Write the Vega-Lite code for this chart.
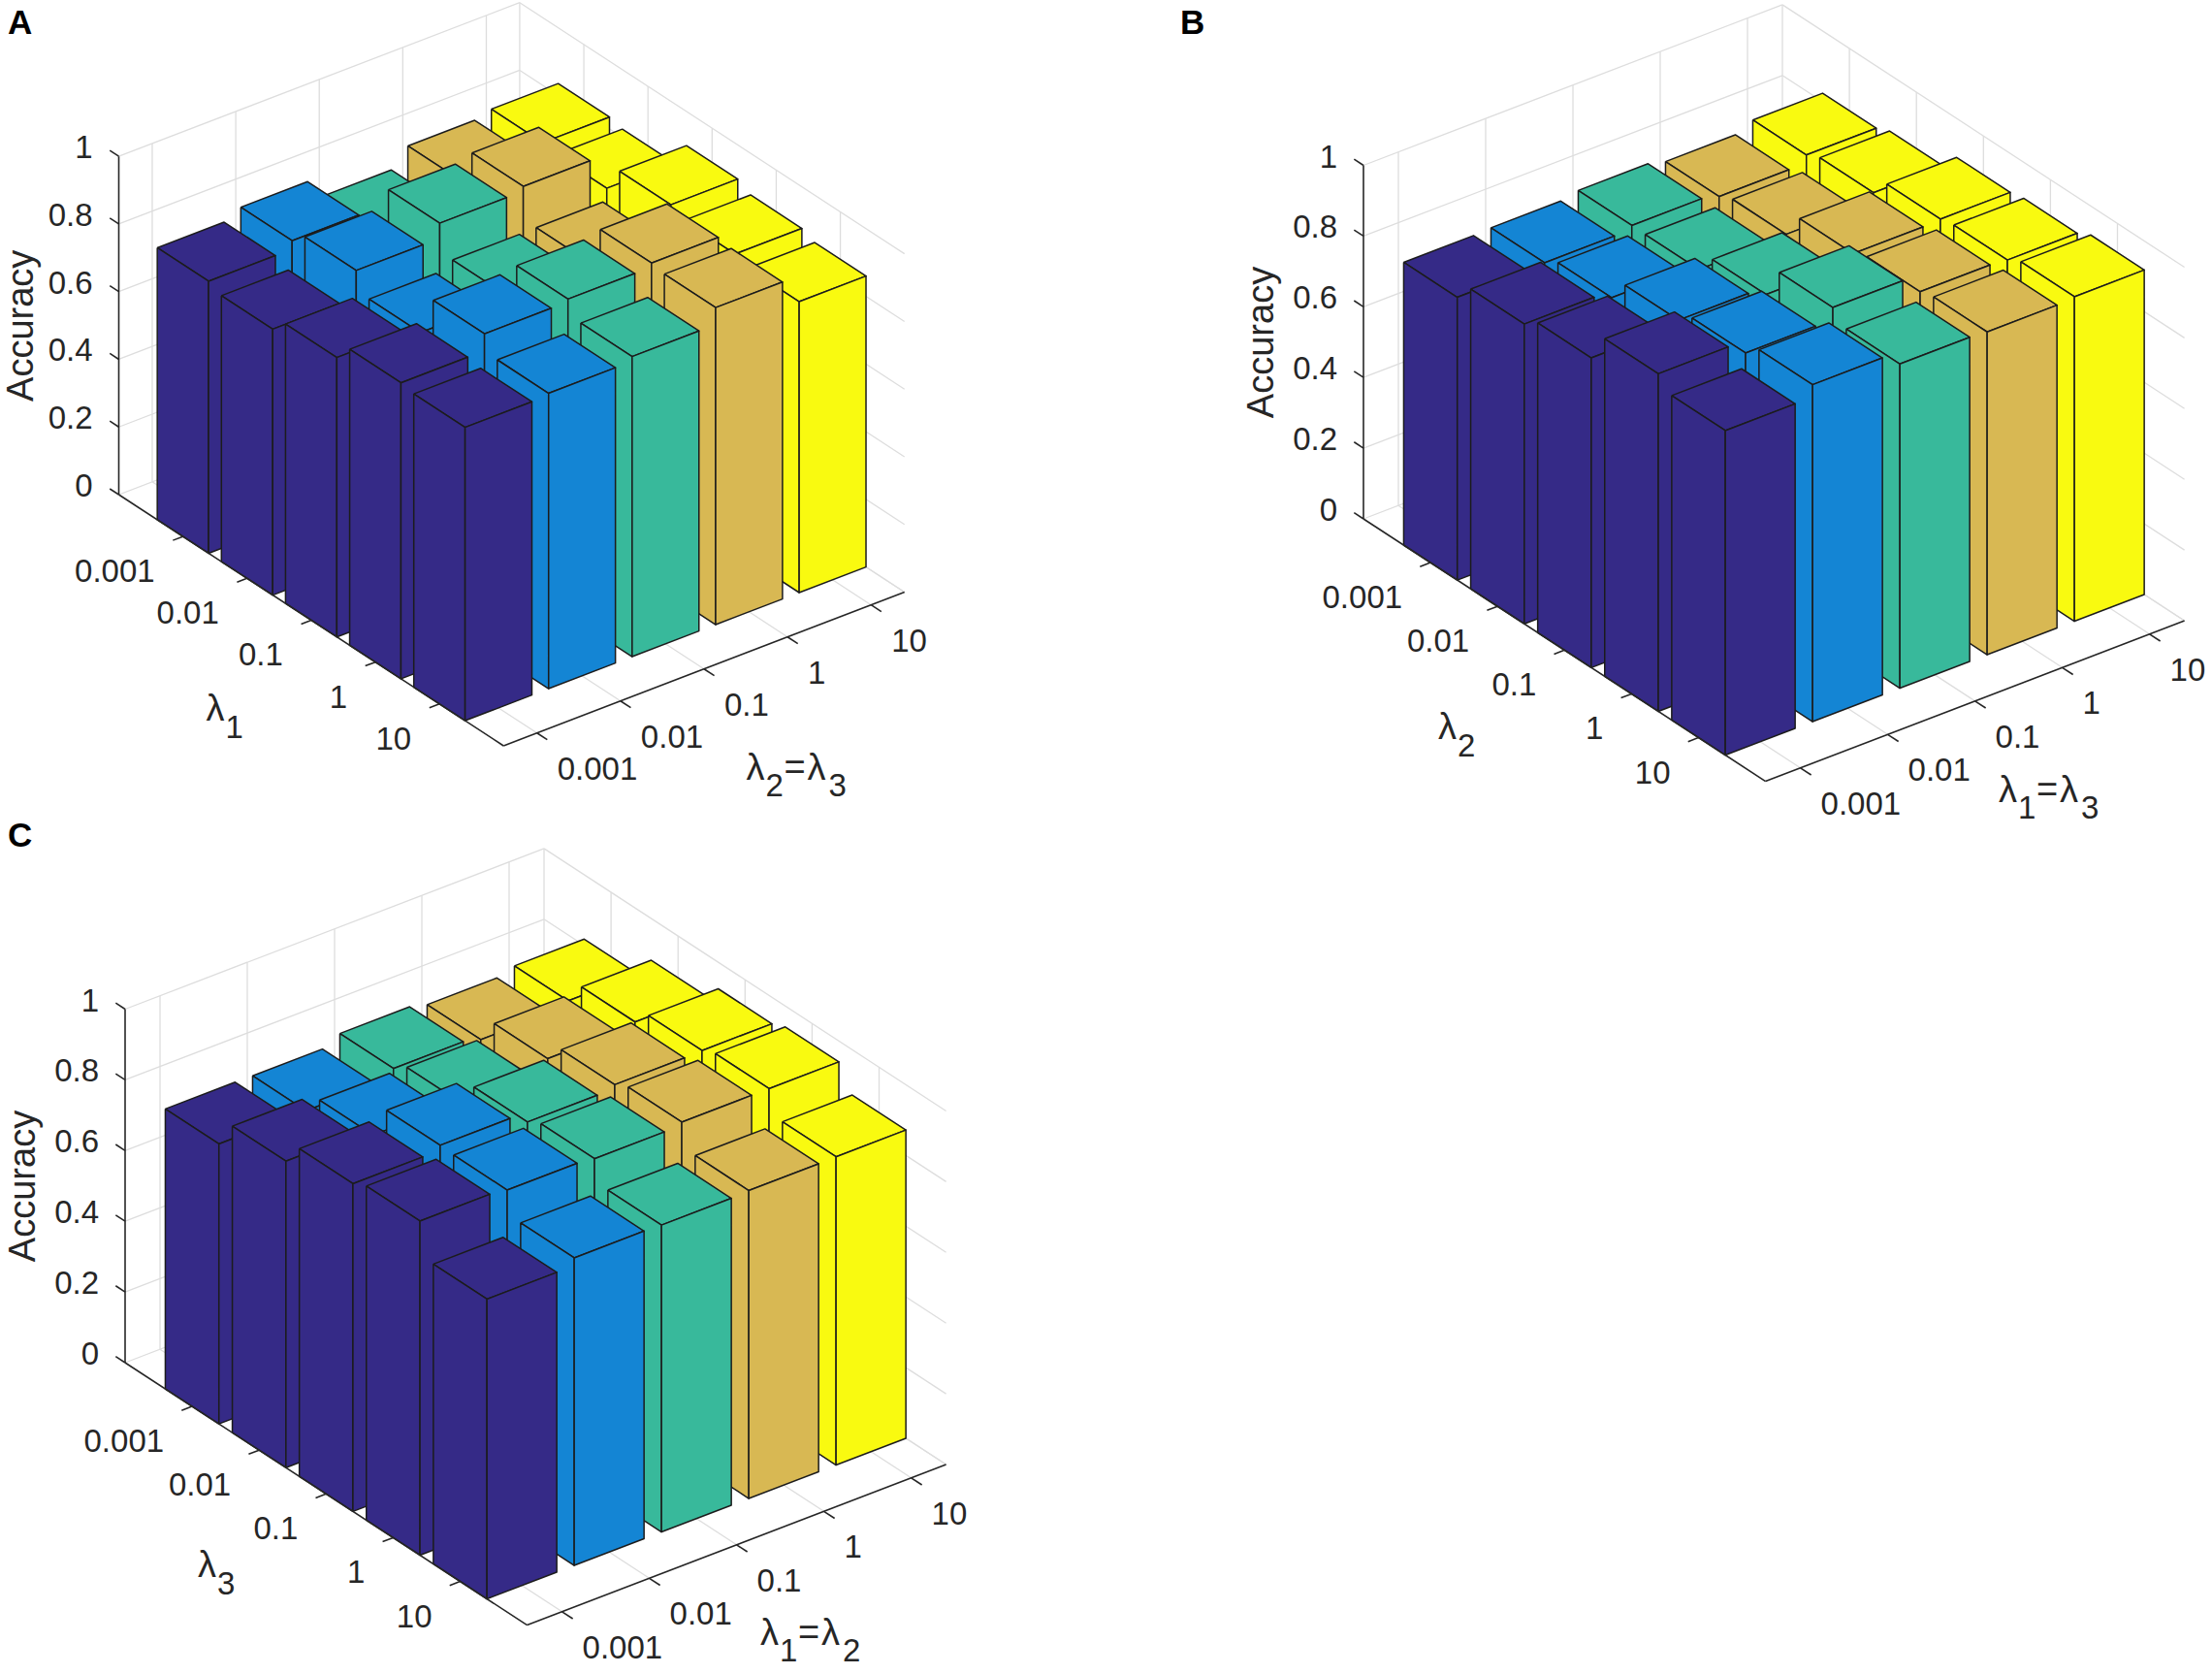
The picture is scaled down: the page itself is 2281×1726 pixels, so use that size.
{
  "$schema": "https://vega.github.io/schema/vega-lite/v6.json",
  "width": 2281,
  "height": 1726,
  "autosize": "none",
  "padding": 0,
  "background": "white",
  "config": {"view": {"stroke": null}, "text": {"font": "Liberation Sans", "color": "#262626"}},
  "params": [
    {"name": "geo", "value": {
      "A": {"lx": 122.5, "ly": 510, "s": 0.957, "tx": 8, "ty": 24, "t1x": 90, "t1y": 222, "t2x": 647, "t2y": 283},
      "B": {"lx": 1406, "ly": 535, "s": 1, "tx": 1217, "ty": 24, "t1x": 77, "t1y": 216, "t2x": 655, "t2y": 281},
      "C": {"lx": 129, "ly": 1405, "s": 1, "tx": 8, "ty": 862, "t1x": 75, "t1y": 210, "t2x": 655, "t2y": 280}
    }}
  ],
  "datasets": {
    "bars": [
      {"p": "A", "i": 5, "j": 1, "acc": 0.835}, {"p": "A", "i": 4, "j": 1, "acc": 0.821}, {"p": "A", "i": 5, "j": 2, "acc": 0.824},
      {"p": "A", "i": 3, "j": 1, "acc": 0.769}, {"p": "A", "i": 4, "j": 2, "acc": 0.924}, {"p": "A", "i": 5, "j": 3, "acc": 0.899},
      {"p": "A", "i": 2, "j": 1, "acc": 0.829}, {"p": "A", "i": 3, "j": 2, "acc": 0.910}, {"p": "A", "i": 4, "j": 3, "acc": 0.827},
      {"p": "A", "i": 5, "j": 4, "acc": 0.877}, {"p": "A", "i": 1, "j": 1, "acc": 0.804}, {"p": "A", "i": 2, "j": 2, "acc": 0.865},
      {"p": "A", "i": 3, "j": 3, "acc": 0.826}, {"p": "A", "i": 4, "j": 4, "acc": 0.945}, {"p": "A", "i": 5, "j": 5, "acc": 0.860},
      {"p": "A", "i": 1, "j": 2, "acc": 0.786}, {"p": "A", "i": 2, "j": 3, "acc": 0.805}, {"p": "A", "i": 3, "j": 4, "acc": 0.933},
      {"p": "A", "i": 4, "j": 5, "acc": 0.937}, {"p": "A", "i": 1, "j": 3, "acc": 0.826}, {"p": "A", "i": 2, "j": 4, "acc": 0.925},
      {"p": "A", "i": 3, "j": 5, "acc": 0.887}, {"p": "A", "i": 1, "j": 4, "acc": 0.875}, {"p": "A", "i": 2, "j": 5, "acc": 0.873},
      {"p": "A", "i": 1, "j": 5, "acc": 0.867},
      {"p": "B", "i": 5, "j": 1, "acc": 0.824}, {"p": "B", "i": 4, "j": 1, "acc": 0.801}, {"p": "B", "i": 5, "j": 2, "acc": 0.841},
      {"p": "B", "i": 3, "j": 1, "acc": 0.814}, {"p": "B", "i": 4, "j": 2, "acc": 0.818}, {"p": "B", "i": 5, "j": 3, "acc": 0.890},
      {"p": "B", "i": 2, "j": 1, "acc": 0.803}, {"p": "B", "i": 3, "j": 2, "acc": 0.813}, {"p": "B", "i": 4, "j": 3, "acc": 0.887},
      {"p": "B", "i": 5, "j": 4, "acc": 0.898}, {"p": "B", "i": 1, "j": 1, "acc": 0.800}, {"p": "B", "i": 2, "j": 2, "acc": 0.828},
      {"p": "B", "i": 3, "j": 3, "acc": 0.866}, {"p": "B", "i": 4, "j": 4, "acc": 0.903}, {"p": "B", "i": 5, "j": 5, "acc": 0.918},
      {"p": "B", "i": 1, "j": 2, "acc": 0.848}, {"p": "B", "i": 2, "j": 3, "acc": 0.888}, {"p": "B", "i": 3, "j": 4, "acc": 0.953},
      {"p": "B", "i": 4, "j": 5, "acc": 0.913}, {"p": "B", "i": 1, "j": 3, "acc": 0.876}, {"p": "B", "i": 2, "j": 4, "acc": 0.919},
      {"p": "B", "i": 3, "j": 5, "acc": 0.917}, {"p": "B", "i": 1, "j": 4, "acc": 0.955}, {"p": "B", "i": 2, "j": 5, "acc": 0.953},
      {"p": "B", "i": 1, "j": 5, "acc": 0.918},
      {"p": "C", "i": 5, "j": 1, "acc": 0.818}, {"p": "C", "i": 4, "j": 1, "acc": 0.803}, {"p": "C", "i": 5, "j": 2, "acc": 0.882},
      {"p": "C", "i": 3, "j": 1, "acc": 0.816}, {"p": "C", "i": 4, "j": 2, "acc": 0.873}, {"p": "C", "i": 5, "j": 3, "acc": 0.925},
      {"p": "C", "i": 2, "j": 1, "acc": 0.791}, {"p": "C", "i": 3, "j": 2, "acc": 0.844}, {"p": "C", "i": 4, "j": 3, "acc": 0.923},
      {"p": "C", "i": 5, "j": 4, "acc": 0.941}, {"p": "C", "i": 1, "j": 1, "acc": 0.792}, {"p": "C", "i": 2, "j": 2, "acc": 0.846},
      {"p": "C", "i": 3, "j": 3, "acc": 0.912}, {"p": "C", "i": 4, "j": 4, "acc": 0.941}, {"p": "C", "i": 5, "j": 5, "acc": 0.872},
      {"p": "C", "i": 1, "j": 2, "acc": 0.867}, {"p": "C", "i": 2, "j": 3, "acc": 0.941}, {"p": "C", "i": 3, "j": 4, "acc": 0.932},
      {"p": "C", "i": 4, "j": 5, "acc": 0.871}, {"p": "C", "i": 1, "j": 3, "acc": 0.927}, {"p": "C", "i": 2, "j": 4, "acc": 0.938},
      {"p": "C", "i": 3, "j": 5, "acc": 0.868}, {"p": "C", "i": 1, "j": 4, "acc": 0.945}, {"p": "C", "i": 2, "j": 5, "acc": 0.870},
      {"p": "C", "i": 1, "j": 5, "acc": 0.848}
    ],
    "ticks": [
      {"k": "z", "v": 0, "t": "0"}, {"k": "z", "v": 0.2, "t": "0.2"}, {"k": "z", "v": 0.4, "t": "0.4"},
      {"k": "z", "v": 0.6, "t": "0.6"}, {"k": "z", "v": 0.8, "t": "0.8"}, {"k": "z", "v": 1, "t": "1"},
      {"k": "x", "v": 1, "t": "0.001"}, {"k": "x", "v": 2, "t": "0.01"}, {"k": "x", "v": 3, "t": "0.1"},
      {"k": "x", "v": 4, "t": "1"}, {"k": "x", "v": 5, "t": "10"}, {"k": "x", "v": 5.4, "t": ""},
      {"k": "y", "v": 1, "t": "0.001"}, {"k": "y", "v": 2, "t": "0.01"}, {"k": "y", "v": 3, "t": "0.1"},
      {"k": "y", "v": 4, "t": "1"}, {"k": "y", "v": 5, "t": "10"}
    ],
    "axislines": [{"a": "x"}, {"a": "y"}, {"a": "z"}],
    "panels": [
      {"p": "A", "yd": "1", "xd1": "2", "xd2": "3"},
      {"p": "B", "yd": "2", "xd1": "1", "xd2": "3"},
      {"p": "C", "yd": "3", "xd1": "1", "xd2": "2"}
    ]
  },
  "encoding": {
    "x": {"field": "px", "type": "quantitative", "scale": {"domain": [0, 2281], "nice": false, "zero": false}, "axis": null},
    "y": {"field": "py", "type": "quantitative", "scale": {"domain": [1726, 0], "nice": false, "zero": false}, "axis": null}
  },
  "layer": [
    {
      "data": {"name": "ticks"},
      "transform": [
        {"fold": ["A", "B", "C"], "as": ["p", "pp"]},
        {"fold": ["g1", "g2"], "as": ["g", "gg"]},
        {"calculate": "datum.k == 'z' ? (datum.g == 'g1' ? 0.6 : 5.4) : datum.k == 'x' ? datum.v : (datum.g == 'g1' ? 5.4 : 0.6)", "as": "X1"},
        {"calculate": "datum.k == 'y' ? datum.v : 0", "as": "Y1"},
        {"calculate": "datum.k == 'z' ? datum.v : 0", "as": "Z1"},
        {"calculate": "datum.k == 'x' ? datum.v : 5.4", "as": "X2"},
        {"calculate": "datum.k == 'y' ? datum.v : (datum.g == 'g1' ? 0 : 6)", "as": "Y2"},
        {"calculate": "datum.k == 'z' ? datum.v : (datum.g == 'g1' ? 1 : 0)", "as": "Z2"},
        {"calculate": "geo[datum.p].lx + geo[datum.p].s * (90 * (datum.X1 - 0.6) + 69.1 * datum.Y1)", "as": "px"},
        {"calculate": "geo[datum.p].ly + geo[datum.p].s * (-34.5 * (datum.X1 - 0.6) + 45.1 * datum.Y1 - 364.5 * datum.Z1)", "as": "py"},
        {"calculate": "geo[datum.p].lx + geo[datum.p].s * (90 * (datum.X2 - 0.6) + 69.1 * datum.Y2)", "as": "px2"},
        {"calculate": "geo[datum.p].ly + geo[datum.p].s * (-34.5 * (datum.X2 - 0.6) + 45.1 * datum.Y2 - 364.5 * datum.Z2)", "as": "py2"}
      ],
      "mark": {"type": "rule", "color": "#dddddd", "strokeWidth": 1.3},
      "encoding": {"x2": {"field": "px2"}, "y2": {"field": "py2"}}
    },
    {
      "data": {"name": "bars"},
      "transform": [
        {"fold": ["top", "left", "right"], "as": ["face", "fv"]},
        {"fold": ["0", "1", "2", "3", "4"], "as": ["vk", "vv"]},
        {"calculate": "toNumber(datum.vk)", "as": "vi"},
        {"calculate": "datum.face == 'left' ? 0 : [0, 1, 1, 0, 0][datum.vi]", "as": "dx"},
        {"calculate": "datum.face == 'right' ? 1 : datum.face == 'top' ? [0, 0, 1, 1, 0][datum.vi] : [0, 1, 1, 0, 0][datum.vi]", "as": "dy"},
        {"calculate": "datum.face == 'top' ? 1 : [1, 1, 0, 0, 1][datum.vi]", "as": "dz"},
        {"calculate": "datum.i - 0.4 + 0.8 * datum.dx", "as": "X1"},
        {"calculate": "datum.j - 0.4 + 0.8 * datum.dy", "as": "Y1"},
        {"calculate": "datum.acc * datum.dz", "as": "Z1"},
        {"calculate": "geo[datum.p].lx + geo[datum.p].s * (90 * (datum.X1 - 0.6) + 69.1 * datum.Y1)", "as": "px"},
        {"calculate": "geo[datum.p].ly + geo[datum.p].s * (-34.5 * (datum.X1 - 0.6) + 45.1 * datum.Y1 - 364.5 * datum.Z1)", "as": "py"},
        {"calculate": "datum.p + '-' + datum.i + '-' + datum.j + '-' + datum.face", "as": "fid"}
      ],
      "mark": {"type": "line", "filled": true, "stroke": "#1c1c1c", "strokeWidth": 1.5, "strokeJoin": "round"},
      "encoding": {
        "detail": {"field": "fid"},
        "order": {"field": "vi", "type": "quantitative"},
        "color": {"field": "i", "type": "nominal", "scale": {"domain": [1, 2, 3, 4, 5], "range": ["#352A87", "#1485D4", "#38B99B", "#D8B853", "#F9FA10"]}, "legend": null}
      }
    },
    {
      "data": {"name": "axislines"},
      "transform": [
        {"fold": ["A", "B", "C"], "as": ["p", "pp"]},
        {"calculate": "0.6", "as": "X1"},
        {"calculate": "datum.a == 'x' ? 6 : 0", "as": "Y1"},
        {"calculate": "0", "as": "Z1"},
        {"calculate": "datum.a == 'x' ? 5.4 : 0.6", "as": "X2"},
        {"calculate": "datum.a == 'z' ? 0 : 6", "as": "Y2"},
        {"calculate": "datum.a == 'z' ? 1 : 0", "as": "Z2"},
        {"calculate": "geo[datum.p].lx + geo[datum.p].s * (90 * (datum.X1 - 0.6) + 69.1 * datum.Y1)", "as": "px"},
        {"calculate": "geo[datum.p].ly + geo[datum.p].s * (-34.5 * (datum.X1 - 0.6) + 45.1 * datum.Y1 - 364.5 * datum.Z1)", "as": "py"},
        {"calculate": "geo[datum.p].lx + geo[datum.p].s * (90 * (datum.X2 - 0.6) + 69.1 * datum.Y2)", "as": "px2"},
        {"calculate": "geo[datum.p].ly + geo[datum.p].s * (-34.5 * (datum.X2 - 0.6) + 45.1 * datum.Y2 - 364.5 * datum.Z2)", "as": "py2"}
      ],
      "mark": {"type": "rule", "color": "#262626", "strokeWidth": 1.6},
      "encoding": {"x2": {"field": "px2"}, "y2": {"field": "py2"}}
    },
    {
      "data": {"name": "ticks"},
      "transform": [
        {"filter": "datum.t != ''"},
        {"fold": ["A", "B", "C"], "as": ["p", "pp"]},
        {"calculate": "datum.k == 'x' ? datum.v : 0.6", "as": "X1"},
        {"calculate": "datum.k == 'x' ? 6 : datum.k == 'y' ? datum.v : 0", "as": "Y1"},
        {"calculate": "datum.k == 'z' ? datum.v : 0", "as": "Z1"},
        {"calculate": "datum.k == 'y' ? 0.48 : datum.X1", "as": "X2"},
        {"calculate": "datum.k == 'z' ? -0.14 : datum.k == 'x' ? 6.16 : datum.Y1", "as": "Y2"},
        {"calculate": "datum.Z1", "as": "Z2"},
        {"calculate": "geo[datum.p].lx + geo[datum.p].s * (90 * (datum.X1 - 0.6) + 69.1 * datum.Y1)", "as": "px"},
        {"calculate": "geo[datum.p].ly + geo[datum.p].s * (-34.5 * (datum.X1 - 0.6) + 45.1 * datum.Y1 - 364.5 * datum.Z1)", "as": "py"},
        {"calculate": "geo[datum.p].lx + geo[datum.p].s * (90 * (datum.X2 - 0.6) + 69.1 * datum.Y2)", "as": "px2"},
        {"calculate": "geo[datum.p].ly + geo[datum.p].s * (-34.5 * (datum.X2 - 0.6) + 45.1 * datum.Y2 - 364.5 * datum.Z2)", "as": "py2"}
      ],
      "mark": {"type": "rule", "color": "#262626", "strokeWidth": 1.6},
      "encoding": {"x2": {"field": "px2"}, "y2": {"field": "py2"}}
    },
    {
      "data": {"name": "ticks"},
      "transform": [
        {"filter": "datum.k == 'z'"},
        {"fold": ["A", "B", "C"], "as": ["p", "pp"]},
        {"calculate": "geo[datum.p].lx - 27", "as": "px"},
        {"calculate": "geo[datum.p].ly - geo[datum.p].s * 364.5 * datum.v - 8", "as": "py"}
      ],
      "mark": {"type": "text", "align": "right", "baseline": "middle", "fontSize": 33},
      "encoding": {"text": {"field": "t"}}
    },
    {
      "data": {"name": "ticks"},
      "transform": [
        {"filter": "datum.k == 'y'"},
        {"fold": ["A", "B", "C"], "as": ["p", "pp"]},
        {"calculate": "geo[datum.p].lx + geo[datum.p].s * 69.1 * datum.v - 29", "as": "px"},
        {"calculate": "geo[datum.p].ly + geo[datum.p].s * 45.1 * datum.v + 37", "as": "py"}
      ],
      "mark": {"type": "text", "align": "right", "baseline": "middle", "fontSize": 33},
      "encoding": {"text": {"field": "t"}}
    },
    {
      "data": {"name": "ticks"},
      "transform": [
        {"filter": "datum.k == 'x' && datum.t != ''"},
        {"fold": ["A", "B", "C"], "as": ["p", "pp"]},
        {"calculate": "geo[datum.p].lx + geo[datum.p].s * (90 * (datum.v - 0.6) + 69.1 * 6) + 21", "as": "px"},
        {"calculate": "geo[datum.p].ly + geo[datum.p].s * (-34.5 * (datum.v - 0.6) + 45.1 * 6) + 38", "as": "py"}
      ],
      "mark": {"type": "text", "align": "left", "baseline": "middle", "fontSize": 33},
      "encoding": {"text": {"field": "t"}}
    },
    {
      "data": {"name": "panels"},
      "transform": [
        {"calculate": "geo[datum.p].tx", "as": "px"},
        {"calculate": "geo[datum.p].ty", "as": "py"}
      ],
      "mark": {"type": "text", "align": "left", "baseline": "middle", "fontSize": 35, "fontWeight": "bold", "color": "#000000"},
      "encoding": {"text": {"field": "p"}}
    },
    {
      "data": {"name": "panels"},
      "transform": [
        {"calculate": "geo[datum.p].lx - 104 * geo[datum.p].s", "as": "px"},
        {"calculate": "geo[datum.p].ly - 182 * geo[datum.p].s", "as": "py"},
        {"calculate": "'Accuracy'", "as": "lab"}
      ],
      "mark": {"type": "text", "align": "center", "baseline": "middle", "fontSize": 38, "angle": 270},
      "encoding": {"text": {"field": "lab"}}
    },
    {
      "data": {"name": "panels"},
      "transform": [
        {"calculate": "geo[datum.p].lx + geo[datum.p].t1x", "as": "px"},
        {"calculate": "geo[datum.p].ly + geo[datum.p].t1y", "as": "py"},
        {"calculate": "'λ'", "as": "lab"}
      ],
      "mark": {"type": "text", "align": "left", "baseline": "middle", "fontSize": 38},
      "encoding": {"text": {"field": "lab"}}
    },
    {
      "data": {"name": "panels"},
      "transform": [
        {"calculate": "geo[datum.p].lx + geo[datum.p].t1x", "as": "px"},
        {"calculate": "geo[datum.p].ly + geo[datum.p].t1y", "as": "py"}
      ],
      "mark": {"type": "text", "align": "left", "baseline": "middle", "fontSize": 33, "dx": 20, "dy": 19},
      "encoding": {"text": {"field": "yd"}}
    },
    {
      "data": {"name": "panels"},
      "transform": [
        {"calculate": "geo[datum.p].lx + geo[datum.p].t2x", "as": "px"},
        {"calculate": "geo[datum.p].ly + geo[datum.p].t2y", "as": "py"},
        {"calculate": "'λ'", "as": "lab"}
      ],
      "mark": {"type": "text", "align": "left", "baseline": "middle", "fontSize": 38},
      "encoding": {"text": {"field": "lab"}}
    },
    {
      "data": {"name": "panels"},
      "transform": [
        {"calculate": "geo[datum.p].lx + geo[datum.p].t2x", "as": "px"},
        {"calculate": "geo[datum.p].ly + geo[datum.p].t2y", "as": "py"}
      ],
      "mark": {"type": "text", "align": "left", "baseline": "middle", "fontSize": 33, "dx": 20, "dy": 18},
      "encoding": {"text": {"field": "xd1"}}
    },
    {
      "data": {"name": "panels"},
      "transform": [
        {"calculate": "geo[datum.p].lx + geo[datum.p].t2x", "as": "px"},
        {"calculate": "geo[datum.p].ly + geo[datum.p].t2y", "as": "py"},
        {"calculate": "'='", "as": "lab"}
      ],
      "mark": {"type": "text", "align": "left", "baseline": "middle", "fontSize": 38, "dx": 39},
      "encoding": {"text": {"field": "lab"}}
    },
    {
      "data": {"name": "panels"},
      "transform": [
        {"calculate": "geo[datum.p].lx + geo[datum.p].t2x", "as": "px"},
        {"calculate": "geo[datum.p].ly + geo[datum.p].t2y", "as": "py"},
        {"calculate": "'λ'", "as": "lab"}
      ],
      "mark": {"type": "text", "align": "left", "baseline": "middle", "fontSize": 38, "dx": 63},
      "encoding": {"text": {"field": "lab"}}
    },
    {
      "data": {"name": "panels"},
      "transform": [
        {"calculate": "geo[datum.p].lx + geo[datum.p].t2x", "as": "px"},
        {"calculate": "geo[datum.p].ly + geo[datum.p].t2y", "as": "py"}
      ],
      "mark": {"type": "text", "align": "left", "baseline": "middle", "fontSize": 33, "dx": 85, "dy": 18},
      "encoding": {"text": {"field": "xd2"}}
    }
  ]
}
